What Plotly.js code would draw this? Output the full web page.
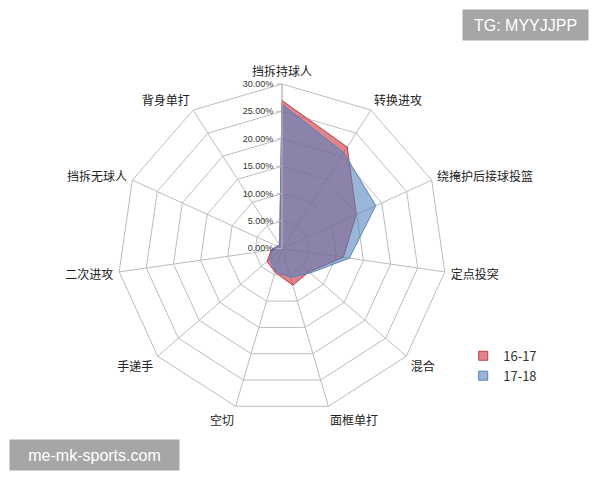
<!DOCTYPE html>
<html>
<head>
<meta charset="utf-8">
<script src="https://cdn.plot.ly/plotly-3.0.1.min.js"></script>
<style>html,body{margin:0;padding:0;background:#fff;}#chart{width:600px;height:480px;}</style>
</head>
<body>
<div id="chart"></div>
<script>
var categories = ['挡拆持球人','转换进攻','绕掩护后接球投篮','定点投突','混合','面框单打','空切','手递手','二次进攻','挡拆无球人','背身单打'];
var season1Name = '16-17';
var season2Name = '17-18';
var season1 = [0.270, 0.220, 0.149, 0.113, 0.065, 0.070, 0.045, 0.036, 0.020, 0.010, 0.008];
var season2 = [0.263, 0.208, 0.188, 0.124, 0.068, 0.055, 0.043, 0.030, 0.018, 0.010, 0.008];
var radialTicks = [0, 0.05, 0.10, 0.15, 0.20, 0.25, 0.30];

function closed(arr){ return arr.concat([arr[0]]); }

var font = '"Noto Sans CJK SC", "Noto Sans", sans-serif';
var fill1 = 'rgba(205,70,80,0.66)', line1 = 'rgb(192,60,70)';
var fill2 = 'rgba(79,129,189,0.58)', line2 = 'rgb(90,130,185)';

var traces = [
  {
    type: 'scatterpolar', mode: 'lines', name: season1Name, showlegend: false,
    r: closed(season1), theta: closed(categories),
    fill: 'toself', fillcolor: fill1,
    line: {color: line1, width: 1}
  },
  {
    type: 'scatterpolar', mode: 'lines', name: season2Name, showlegend: false,
    r: closed(season2), theta: closed(categories),
    fill: 'toself', fillcolor: fill2,
    line: {color: line2, width: 1}
  },
  {
    type: 'scatterpolar', mode: 'markers', name: season1Name,
    r: [null], theta: [null],
    marker: {symbol: 'square', size: 9, color: fill1, line: {color: line1, width: 1}}
  },
  {
    type: 'scatterpolar', mode: 'markers', name: season2Name,
    r: [null], theta: [null],
    marker: {symbol: 'square', size: 9, color: fill2, line: {color: line2, width: 1}}
  }
];

var layout = {
  width: 600, height: 480,
  margin: {l: 0, r: 0, t: 0, b: 0},
  paper_bgcolor: '#fff', plot_bgcolor: '#fff',
  font: {family: font, size: 12, color: '#333'},
  showlegend: true,
  legend: {x: 0.772, y: 0.290, xanchor: 'left', yanchor: 'top', itemwidth: 30,
    font: {family: font, size: 13, color: '#333'}, bgcolor: 'rgba(0,0,0,0)', tracegroupgap: 4},
  polar: {
    domain: {x: [0.1958, 0.7442], y: [0.1396, 0.825]},
    gridshape: 'linear',
    bgcolor: '#fff',
    angularaxis: {
      rotation: 90, direction: 'clockwise',
      type: 'category', categoryarray: categories,
      showline: true, linecolor: '#bdbdbd', linewidth: 1,
      gridcolor: '#bdbdbd', gridwidth: 1,
      ticks: 'outside', ticklen: 3, tickcolor: 'rgba(0,0,0,0)',
      tickfont: {family: font, size: 12, color: '#222'}
    },
    radialaxis: {
      range: [0, 0.30], tickvals: radialTicks, tickformat: '.2%',
      angle: 90, side: 'counterclockwise', tickangle: 90,
      showline: true, linecolor: '#bdbdbd', linewidth: 1,
      gridcolor: '#bdbdbd', gridwidth: 1,
      ticks: 'outside', ticklen: 5, tickcolor: '#bdbdbd',
      tickfont: {family: 'Liberation Sans, Arial, sans-serif', size: 9, color: '#333'}
    }
  },
  annotations: [
    {xref: 'paper', yref: 'paper', x: 0.8750, y: 1 - 25/480, xanchor: 'center', yanchor: 'middle',
     text: 'TG: MYYJJPP', showarrow: false, bgcolor: '#a6a6a6', borderpad: 5,
     font: {family: 'Liberation Sans, Arial, sans-serif', size: 16, color: '#fff'}, width: 115, height: 20},
    {xref: 'paper', yref: 'paper', x: 94/600, y: 1 - 455/480, xanchor: 'center', yanchor: 'middle',
     text: 'me-mk-sports.com', showarrow: false, bgcolor: '#a6a6a6', borderpad: 5,
     font: {family: 'Liberation Sans, Arial, sans-serif', size: 16, color: '#fff'}, width: 159, height: 20}
  ]
};

Plotly.newPlot('chart', traces, layout, {displayModeBar: false, staticPlot: true});
</script>
</body>
</html>
